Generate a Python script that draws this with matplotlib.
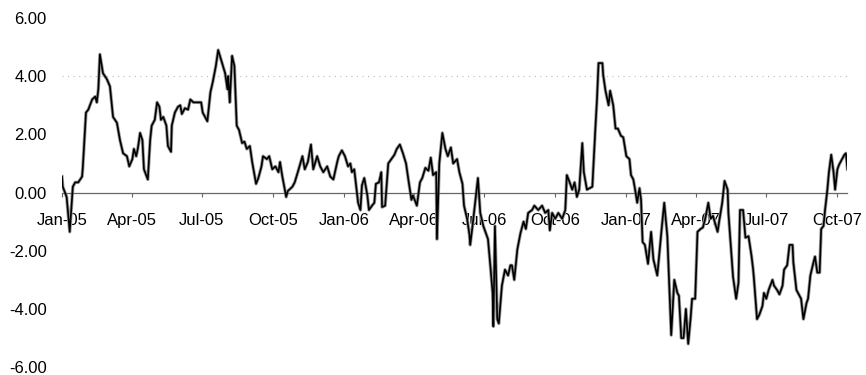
import datetime as dt

import matplotlib
matplotlib.use('Agg')
import matplotlib.pyplot as plt
import matplotlib.dates as mdates

# Дні від 1 січня 2005 та значення ряду
days = [0, 1, 6, 10, 14, 17, 21, 26, 27, 31, 34, 39, 43, 45, 47, 49, 53, 58, 62, 66,
        71, 75, 79, 84, 87, 91, 93, 96, 98, 101, 104, 106, 111, 114, 116, 120, 123, 126, 128, 131,
        135, 137, 141, 142, 146, 150, 153, 155, 159, 163, 166, 170, 175, 180, 182, 188, 192, 195, 199, 202,
        207, 211, 214, 215, 217, 220, 223, 226, 229, 233, 236, 239, 243, 246, 251, 254, 258, 260, 265, 268,
        272, 276, 280, 282, 285, 290, 292, 298, 301, 305, 311, 314, 318, 322, 325, 330, 334, 338, 343, 347,
        351, 356, 358, 362, 366, 370, 373, 375, 378, 380, 383, 386, 388, 391, 395, 397, 401, 404, 406, 410,
        413, 414, 418, 422, 426, 430, 433, 437, 441, 445, 448, 452, 454, 459, 463, 466, 470, 474, 477, 480,
        484, 485, 488, 492, 496, 499, 503, 506, 511, 514, 518, 520, 524, 527, 528, 531, 534, 538, 541, 545,
        551, 554, 557, 558, 560, 563, 565, 569, 573, 577, 580, 582, 585, 589, 593, 597, 600, 603, 608, 611,
        616, 621, 625, 629, 631, 634, 638, 642, 647, 651, 653, 656, 660, 663, 666, 669, 673, 675, 679, 686,
        690, 692, 694, 699, 700, 703, 707, 709, 713, 716, 719, 723, 726, 730, 734, 736, 739, 741, 744, 747,
        749, 751, 754, 758, 762, 765, 770, 774, 776, 779, 783, 784, 788, 792, 796, 798, 801, 804, 807, 810,
        813, 815, 819, 822, 826, 829, 832, 836, 839, 842, 848, 850, 854, 857, 861, 862, 866, 868, 872, 875,
        877, 881, 884, 888, 892, 894, 895, 899, 902, 906, 908, 911, 914, 919, 921, 925, 928, 932, 934, 938,
        941, 945, 946, 950, 952, 956, 959, 963, 965, 968, 972, 974, 977, 980, 982, 985, 987, 990, 992, 995,
        998, 1000, 1003, 1005, 1009, 1012, 1014, 1016]
values = [0.55, 0.2, -0.15, -1.35, 0.2, 0.35, 0.35, 0.55, 0.9, 2.75, 2.85, 3.2, 3.3, 3.1, 3.55, 4.75, 4.1, 3.9, 3.65, 2.6,
          2.4, 1.8, 1.35, 1.25, 0.9, 1.15, 1.5, 1.25, 1.5, 2.05, 1.8, 0.8, 0.45, 1.8, 2.3, 2.5, 3.1, 2.95, 2.5, 2.6,
          2.3, 1.6, 1.4, 2.3, 2.75, 2.95, 3.0, 2.7, 2.9, 2.85, 3.2, 3.1, 3.1, 3.1, 2.75, 2.45, 3.45, 3.8, 4.35, 4.9,
          4.45, 4.1, 3.55, 4.0, 3.1, 4.7, 4.35, 2.3, 2.15, 1.7, 1.75, 1.5, 1.6, 1.05, 0.3, 0.5, 0.9, 1.25, 1.15, 1.25,
          0.8, 0.9, 0.7, 1.05, 0.55, -0.15, 0.05, 0.2, 0.35, 0.7, 1.25, 0.8, 1.05, 1.65, 0.8, 1.25, 0.9, 0.7, 0.9, 0.55,
          0.45, 1.05, 1.25, 1.45, 1.25, 0.9, 1.0, 0.7, 0.8, 0.35, -0.35, -0.6, 0.25, 0.5, -0.1, -0.6, -0.45, -0.35, 0.3, 0.35,
          0.7, -0.5, -0.45, 1.0, 1.15, 1.3, 1.5, 1.65, 1.35, 1.0, 0.45, -0.25, -0.1, -0.45, 0.35, 0.5, 0.85, 0.75, 1.2, 0.6,
          0.7, -1.6, 1.0, 2.05, 1.5, 1.25, 1.55, 1.0, 1.15, 0.7, 0.3, -0.45, -0.9, -1.45, -1.8, -1.15, -0.45, 0.5, -0.7, -1.15,
          -1.6, -2.5, -3.45, -4.6, -1.15, -4.35, -4.5, -3.2, -2.65, -2.85, -2.5, -2.5, -3.0, -1.95, -1.4, -1.0, -1.25, -0.7, -0.6, -0.45,
          -0.6, -0.45, -0.7, -0.6, -1.3, -0.7, -0.9, -0.7, -0.9, -0.6, 0.6, 0.4, 0.1, 0.35, -0.15, 0.1, 1.7, 0.7, 0.1, 0.2,
          2.25, 3.2, 4.45, 4.45, 4.05, 3.5, 3.0, 3.5, 3.0, 2.2, 2.2, 1.95, 1.9, 1.25, 1.15, 0.6, 0.45, 0.15, -0.35, 0.15,
          -0.25, -1.7, -1.8, -2.45, -1.35, -2.3, -2.85, -1.7, -1.15, -0.35, -1.5, -2.2, -4.9, -3.0, -3.45, -3.55, -5.0, -5.0, -4.0, -5.2,
          -4.35, -3.65, -3.65, -1.35, -1.25, -1.2, -0.9, -0.35, -0.9, -0.8, -1.35, -1.0, -0.35, 0.4, 0.1, -0.7, -2.2, -2.9, -3.65, -3.1,
          -0.6, -0.6, -1.55, -1.5, -2.2, -2.65, -2.95, -4.35, -4.2, -3.9, -3.45, -3.65, -3.35, -3.0, -3.2, -3.35, -3.5, -3.2, -2.65, -2.5,
          -1.8, -1.8, -2.4, -3.35, -3.45, -3.65, -4.35, -3.8, -3.65, -2.85, -2.4, -2.2, -2.75, -2.75, -1.25, -1.15, -0.6, 0.1, 0.7, 1.3,
          0.7, 0.1, 0.8, 0.95, 1.15, 1.3, 1.35, 0.8]

start = dt.datetime(2005, 1, 1)
dates = [start + dt.timedelta(days=d) for d in days]

plt.rcParams['font.family'] = ['Liberation Sans', 'DejaVu Sans']

fig = plt.figure(figsize=(8.66, 3.75), dpi=100)
ax = fig.add_axes([0.0716, 0.021, 0.907, 0.931])

ax.axhline(4, color='#bbbbbb', lw=0.8, ls=(0, (1, 4)), zorder=1)  # пунктирна сітка
ax.plot(dates, values, color='#9a9a9a', lw=2.4, zorder=2)
ax.plot(dates, values, color='black', lw=1.2, zorder=3)

ax.set_ylim(-6, 6)
ax.set_yticks([-6, -4, -2, 0, 2, 4, 6])
ax.set_yticklabels(['-6.00', '-4.00', '-2.00', '0.00', '2.00', '4.00', '6.00'])
ax.set_xlim(start, start + dt.timedelta(days=1016))

ax.xaxis.set_major_locator(mdates.MonthLocator(bymonth=[1, 4, 7, 10]))
ax.xaxis.set_major_formatter(mdates.DateFormatter('%b-%y'))

for s in ['top', 'right', 'left']:
    ax.spines[s].set_visible(False)
ax.spines['bottom'].set_position(('data', 0))
ax.spines['bottom'].set_color('#666666')
ax.spines['bottom'].set_linewidth(0.9)
ax.spines['bottom'].set_zorder(2.5)

ax.tick_params(axis='x', direction='out', length=3, width=0.8, color='#666666', pad=12, labelsize=12)
ax.tick_params(axis='y', length=0, pad=11, labelsize=12)

fig.savefig('out.png', dpi=100)
